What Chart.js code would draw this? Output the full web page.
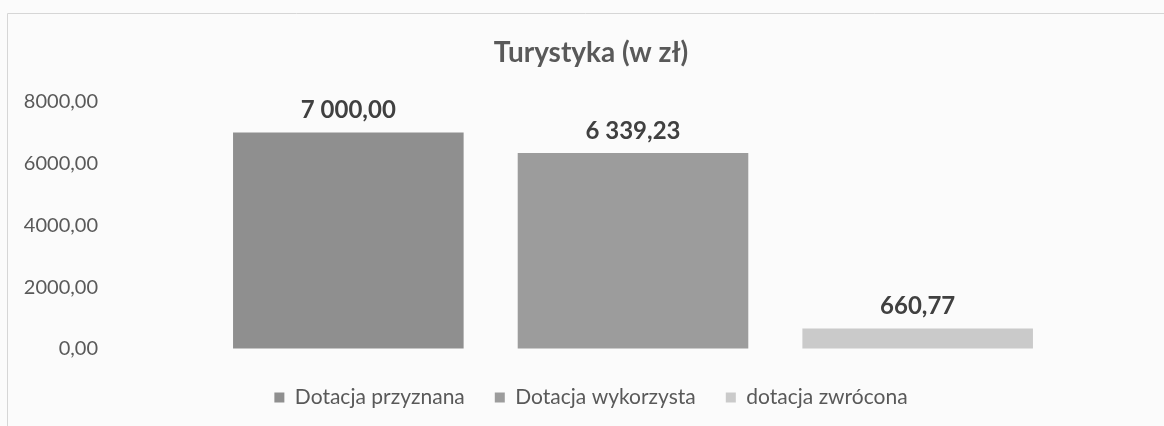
<!DOCTYPE html>
<html>
<head>
<meta charset="utf-8">
<script src="https://cdn.jsdelivr.net/npm/chart.js@4/dist/chart.umd.min.js"></script>
<style>
  body { margin: 0; background: #fbfbfb; }
  canvas { display: block; }
</style>
</head>
<body>
<canvas id="chartId" width="1164" height="426"></canvas>
<script>
const seriesNames = ["Dotacja przyznana", "Dotacja wykorzysta", "dotacja zwrócona"];
const seriesValues = [7000, 6339.23, 660.77];
const seriesColors = ["#8f8f8f", "#9c9c9c", "#cacaca"];
const yTicks = [0, 2000, 4000, 6000, 8000];

const FONT = "Lato, 'Open Sans', sans-serif";

// pl number format: "7 000,00"
function plFormat(v, spaced) {
  let s = v.toFixed(2).replace(".", ",");
  if (spaced) {
    const [i, d] = s.split(",");
    s = i.replace(/\B(?=(\d{3})+(?!\d))/g, " ") + "," + d;
  }
  return s;
}

// one category per bar, each series only fills its own slot
const datasets = seriesNames.map((name, i) => ({
  label: name,
  data: seriesValues.map((v, j) => (j === i ? v : null)),
  backgroundColor: seriesColors[i],
  skipNull: true,
  categoryPercentage: 1,
  barPercentage: 0.81,
}));

const frame = {
  id: "frame",
  beforeDraw(chart) {
    const c = chart.ctx;
    c.save();
    c.strokeStyle = "#d6d6d6";
    c.lineWidth = 1;
    c.beginPath();
    c.moveTo(7.5, 426);
    c.lineTo(7.5, 13.5);
    c.lineTo(1164, 13.5);
    c.stroke();
    c.restore();
  },
};

const valueLabels = {
  id: "valueLabels",
  afterDatasetsDraw(chart) {
    const c = chart.ctx;
    c.save();
    c.font = "bold 24px " + FONT;
    c.fillStyle = "#404040";
    c.textAlign = "center";
    c.textBaseline = "bottom";
    chart.data.datasets.forEach((ds, i) => {
      const meta = chart.getDatasetMeta(i);
      meta.data.forEach((bar, j) => {
        const v = ds.data[j];
        if (v == null) return;
        c.fillText(plFormat(v, true), bar.x, bar.y - 10);
      });
    });
    c.restore();
  },
};

new Chart(document.getElementById("chartId"), {
  type: "bar",
  data: { labels: seriesNames, datasets: datasets },
  plugins: [frame, valueLabels],
  options: {
    responsive: false,
    animation: false,
    layout: { padding: { left: 18, right: 0, top: 0, bottom: 8 } },
    plugins: {
      title: {
        display: true,
        text: "Turystyka (w zł)",
        color: "#595959",
        font: { family: FONT, size: 28, weight: "bold" },
        padding: { top: 36, bottom: 32 },
      },
      legend: {
        position: "bottom",
        labels: {
          color: "#595959",
          font: { family: FONT, size: 21 },
          boxWidth: 10,
          boxHeight: 10,
          padding: 30,
        },
      },
      tooltip: { enabled: false },
    },
    scales: {
      x: {
        ticks: { display: false },
        grid: { display: false },
        border: { display: false },
      },
      y: {
        min: 0,
        max: 8000,
        afterBuildTicks(scale) {
          scale.ticks = yTicks.map((v) => ({ value: v }));
        },
        afterFit(scale) {
          scale.width = 188;
        },
        ticks: {
          padding: 4,
          color: "#595959",
          font: { family: FONT, size: 20 },
          callback: (v) => plFormat(v, false),
        },
        // invisible tick marks only to push labels away from the bars
        grid: {
          drawOnChartArea: false,
          drawTicks: true,
          tickLength: 104,
          color: "rgba(0,0,0,0)",
        },
        border: { display: false },
      },
      // empty axis on the right, keeps the plot narrower while title/legend stay centred
      yRight: {
        position: "right",
        ticks: { display: false },
        grid: { display: false },
        border: { display: false },
        afterFit(scale) {
          scale.width = 104;
        },
      },
    },
  },
});
</script>
</body>
</html>
